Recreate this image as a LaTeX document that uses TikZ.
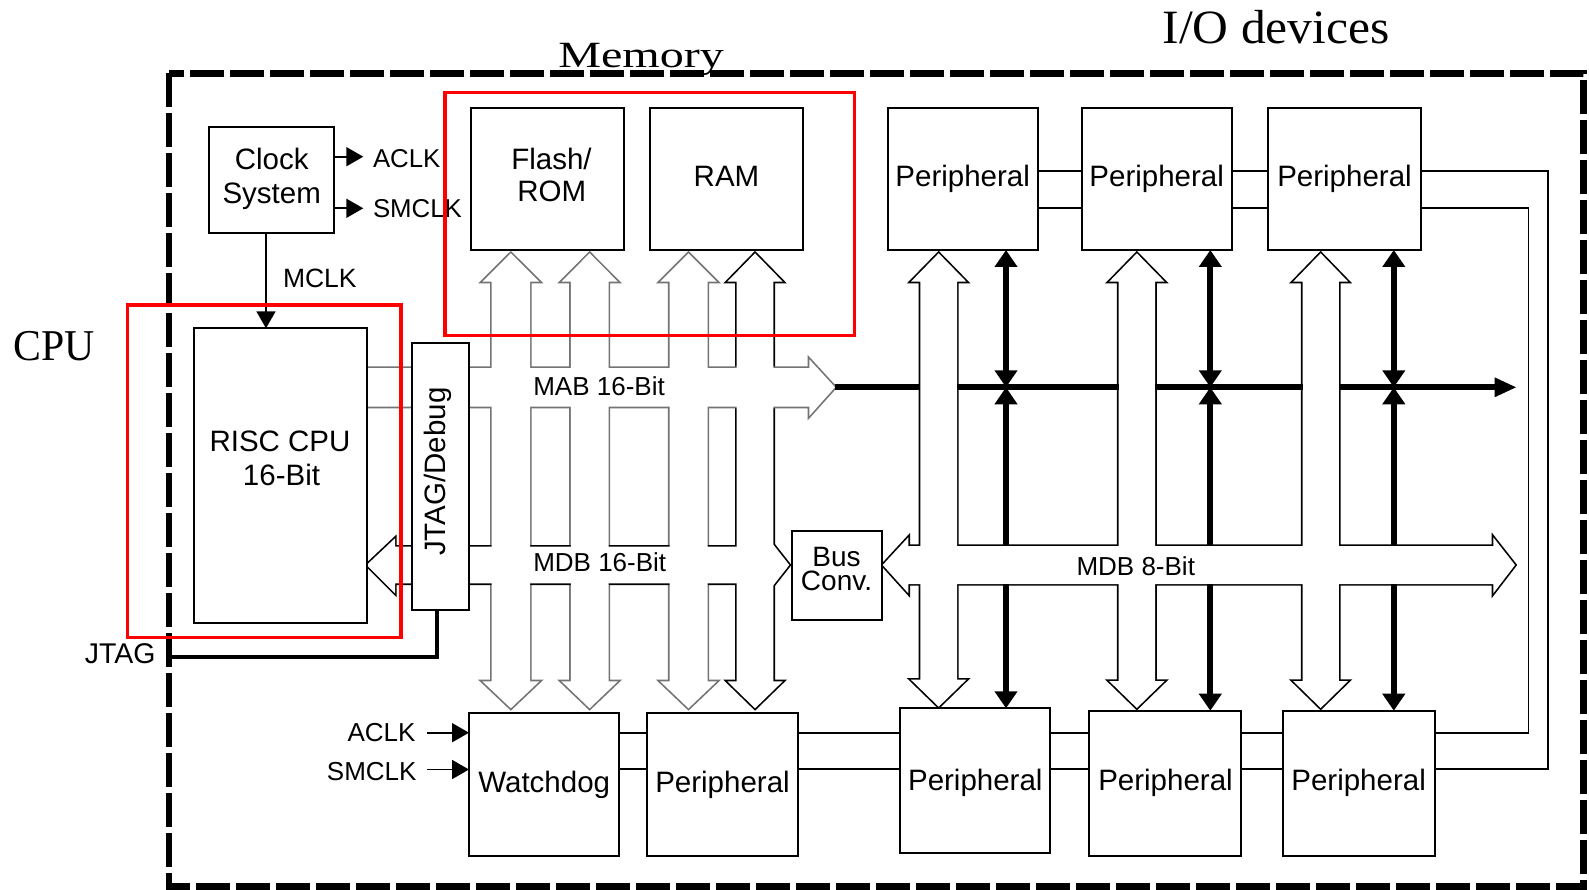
\documentclass[tikz,border=0pt]{standalone}
\usepackage{graphicx}
\usepackage{fontspec}
\setmainfont{Liberation Serif}
\newfontfamily\arialf{Liberation Sans}
\usetikzlibrary{arrows.meta,fit,calc}

\tikzset{
  every node/.style={inner sep=0pt, outer sep=0pt},
  box/.style={draw=black, line width=2pt, fill=white, inner sep=0pt, outer sep=0pt},
  conn/.style={draw=black, line width=1.8pt},
  bandline/.style={line width=3.4pt, line join=miter},
  thickln/.style={line width=6pt, black},
  redbox/.style={draw=red, line width=3.2pt},
  dashborder/.style={draw=black, line width=6.5pt, dash pattern=on 34pt off 6pt},
  lab/.style={font=\arialf\fontsize{29.5}{29.5}\selectfont, anchor=base},
  slab/.style={font=\arialf\fontsize{26}{26}\selectfont, anchor=base west},
  slabe/.style={font=\arialf\fontsize{26}{26}\selectfont, anchor=base east},
  bigtip/.style={>={Triangle[length=17pt,width=22pt]}},
  smalltip/.style={-{Triangle[length=17pt,width=19pt]}},
}

\newcommand\vband[5]{\path[#5] (#1,#3+28.4) -- (#1-9.4,#3+28.4) -- ({(#1+#2)/2},#3) -- (#2+9.4,#3+28.4) -- (#2,#3+28.4) -- (#2,#4-27) -- (#2+9.4,#4-27) -- ({(#1+#2)/2},#4) -- (#1-9.4,#4-27) -- (#1,#4-27) -- cycle;}
\newcommand\vbands[2]{%
  \vband{491.7}{530}{253.3}{708.3}{#1}
  \vband{570.8}{608.5}{253.3}{708.3}{#1}
  \vband{669.5}{707.5}{253.3}{708.3}{#1}
  \vband{736.7}{773.4}{253.3}{708.3}{#2}
  \vband{920.3}{957}{253.3}{706.7}{#2}
  \vband{1118.5}{1155.2}{253.3}{708}{#2}
  \vband{1302.5}{1338.8}{253.3}{708}{#2}
}
\newcommand\hbands[2]{%
  \path[#1] (366.7,368) -- (809.3,368) -- (809.3,359.3) -- (835,387.3) -- (809.3,416) -- (809.3,406.7) -- (366.7,406.7) -- cycle;
  \path[#2] (366.7,565) -- (395,538.3) -- (395,546.7) -- (768.3,546.7) -- (768.3,538.3) -- (789.3,565) -- (768.3,591.7) -- (768.3,583.3) -- (395,583.3) -- (395,593.3) -- cycle;
  \path[#2] (882.7,565) -- (908.3,537.3) -- (908.3,546) -- (1493.3,546) -- (1493.3,537.3) -- (1515,565) -- (1493.3,593.3) -- (1493.3,584) -- (908.3,584) -- (908.3,593.3) -- cycle;
}
\newcommand\mybox[5]{%
  \path (#2,#3) coordinate (#1-nw) (#4,#5) coordinate (#1-se);
  \node[box, fit=(#1-nw)(#1-se)] (#1) {};
}

\begin{document}
\begin{tikzpicture}[x=1pt,y=-1pt]
\useasboundingbox (0,0) rectangle (1589,890);
\fill[white] (0,0) rectangle (1589,890);

% outer dashed border
\draw[dashborder] (169,73.3) rectangle (1583.3,886.7);

% buses: outlines, then interiors (street-grid crossings)
\vbands{draw=black!55,bandline}{draw=black,bandline}
\hbands{draw=black!55,bandline}{draw=black,bandline}
\vbands{fill=white}{fill=white}
\hbands{fill=white}{fill=white}

% boxes
\mybox{CS}{209}{126.7}{334.3}{232.7}
\mybox{FL}{471}{107.7}{624}{250}
\mybox{RAM}{650}{107.7}{802.7}{250}
\mybox{P1}{887.7}{107.7}{1037.7}{250}
\mybox{P2}{1081.7}{107.7}{1231.7}{250}
\mybox{P3}{1268.3}{107.7}{1420.7}{250}
\mybox{CPU}{194}{328.3}{366.7}{622.7}
\mybox{JT}{412.3}{342.7}{469.3}{610}
\mybox{BC}{792.3}{531}{881.7}{620}
\mybox{WD}{469}{712.7}{618.5}{856}
\mybox{W2}{647.3}{712.7}{798.1}{856}
\mybox{Q1}{900.4}{708.3}{1050.3}{852.7}
\mybox{Q2}{1089.4}{710.7}{1241.2}{856}
\mybox{Q3}{1282.7}{710.7}{1434.9}{856}

% thick address line
\coordinate (mabtip) at (835,387.3);
\coordinate (mabend) at (1516.7,387.3);
\draw[thickln] (mabtip) -- (920.3,387.3);
\draw[thickln] (957,387.3) -- (1118.5,387.3);
\draw[thickln] (1155.2,387.3) -- (1302.5,387.3);
\draw[thickln, -{Triangle[length=22pt,width=18pt]}] (1338.8,387.3) -- (mabend);

% thick vertical peripheral links
\foreach \x/\p/\q in {1006/P1/Q1, 1210.3/P2/Q2, 1393.8/P3/Q3} {
  \draw[thickln, bigtip, ->] (\x,546) -- (\x,387.3);
  \draw[thickln, bigtip, <->] (\x,387.3) -- (\x,0 |- \p.south);
  \draw[thickln, bigtip, ->] (\x,584) -- (\x,0 |- \q.north);
}

% connectors between peripherals
\coordinate (ya) at (0,171);
\coordinate (yb) at (0,207.7);
\coordinate (yc) at (0,732.7);
\coordinate (yd) at (0,769.3);
\draw[conn] (P1.east |- ya) -- (P2.west |- ya);
\draw[conn] (P1.east |- yb) -- (P2.west |- yb);
\draw[conn] (P2.east |- ya) -- (P3.west |- ya);
\draw[conn] (P2.east |- yb) -- (P3.west |- yb);
\coordinate (ro) at (1547.8,769.3);
\coordinate (ri) at (1528.5,732.7);
\draw[conn] (P3.east |- ya) -| (ro) -- (Q3.east |- yd);
\draw[conn] (P3.east |- yb) -| (ri) -- (Q3.east |- yc);
\draw[conn] (WD.east |- yc) -- (W2.west |- yc);
\draw[conn] (WD.east |- yd) -- (W2.west |- yd);
\draw[conn] (W2.east |- yc) -- (Q1.west |- yc);
\draw[conn] (W2.east |- yd) -- (Q1.west |- yd);
\draw[conn] (Q1.east |- yc) -- (Q2.west |- yc);
\draw[conn] (Q1.east |- yd) -- (Q2.west |- yd);
\draw[conn] (Q2.east |- yc) -- (Q3.west |- yc);
\draw[conn] (Q2.east |- yd) -- (Q3.west |- yd);

% clock signals
\coordinate (acl) at (363.3,156.7);
\coordinate (smc) at (363.3,208.3);
\draw[conn, smalltip] (CS.east |- acl) -- (acl);
\draw[conn, smalltip] (CS.east |- smc) -- (smc);
\coordinate (mclkx) at (266,300);
\draw[conn, smalltip] (CS.south -| mclkx) -- (CPU.north -| mclkx);
\coordinate (acl2) at (427,732.7);
\coordinate (smc2) at (427,769.5);
\draw[conn, smalltip] (acl2) -- (acl2 -| WD.west);
\draw[conn, smalltip] (smc2) -- (smc2 -| WD.west);

% JTAG line
\coordinate (jt) at (171,656.7);
\coordinate (jtx) at (437,610);
\draw[line width=4pt] (jt) -| (jtx);

% texts
\node[lab] (tclock) at (271.7,169.3) {Clock};
\node[lab] (tsystem) at (271.7,203.3) {System};
\node[slab, font=\arialf\fontsize{25.8}{25.8}\selectfont] (taclk) at (373,167.3) {ACLK};
\node[slab, font=\arialf\fontsize{25.8}{25.8}\selectfont] (tsmclk) at (373,217.3) {SMCLK};
\node[slab, font=\arialf\fontsize{26.5}{26.5}\selectfont] (tmclk) at (283,287.7) {MCLK};
\node[lab] (tflash) at (551.5,169.3) {Flash/};
\node[lab] (trom) at (551.7,201.3) {ROM};
\node[lab] (tram) at (726.5,186.7) {RAM};
\node[lab] (tp1) at (962.7,186.7) {Peripheral};
\node[lab] (tp2) at (1156.7,186.7) {Peripheral};
\node[lab] (tp3) at (1344.5,186.7) {Peripheral};
\node[lab] (trisc) at (280,451.7) {RISC CPU};
\node[lab] (t16) at (281.5,485) {16-Bit};
\node[lab, rotate=90] (tjtag) at (445,471.7) {JTAG/Debug};
\node[slab] (tmab) at (533.3,395) {MAB 16-Bit};
\node[slab] (tmdb16) at (533.3,571.7) {MDB 16-Bit};
\node[slabe] (tmdb8) at (1195,575) {MDB 8-Bit};
\node[font=\arialf\fontsize{28}{24.2}\selectfont, align=center, anchor=center] (tbusconv) at (836.5,569.2) {Bus\\Conv.};
\node[lab] (twd) at (544.2,792.7) {Watchdog};
\node[lab] (tw2) at (722.5,792.7) {Peripheral};
\node[lab] (tq1) at (975.3,790) {Peripheral};
\node[lab] (tq2) at (1165.5,790) {Peripheral};
\node[lab] (tq3) at (1358.6,790) {Peripheral};
\node[slabe] (taclk2) at (415.5,741.7) {ACLK};
\node[slabe] (tsmclk2) at (416.5,780) {SMCLK};
\node[slabe, font=\arialf\fontsize{28.5}{28.5}\selectfont] (tjtagin) at (155.5,663.3) {JTAG};

% red highlight boxes
\draw[redbox] (445,92.7) rectangle (854.3,335.3);
\draw[redbox] (127.3,305) rectangle (401,637.3);

% group labels
\node[font=\fontsize{47.8}{47.8}\selectfont, anchor=base west] (lio) at (1162.7,43.3) {\scalebox{1.036}[1]{I/O devices}};
\node[font=\fontsize{37}{37}\selectfont, anchor=base west] (lmem) at (558.3,67.3) {\scalebox{1.3}[1]{Memory}};
\node[font=\fontsize{44}{44}\selectfont, anchor=base west] (lcpu) at (13.3,360.7) {\scalebox{0.95}[1]{CPU}};
\end{tikzpicture}
\end{document}
